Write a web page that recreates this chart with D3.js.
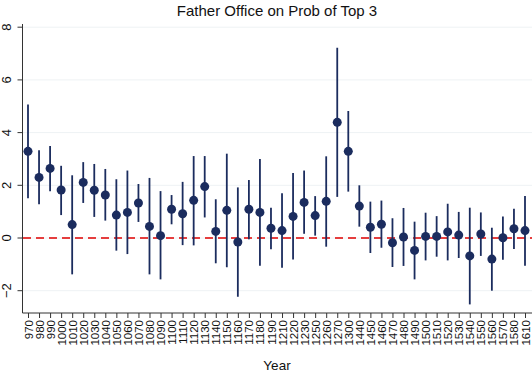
<!DOCTYPE html>
<html>
<head>
<meta charset="utf-8">
<script src="https://cdn.jsdelivr.net/npm/d3@7"></script>
<style>
  body { margin: 0; background: #fff; }
  svg { display: block; font-family: "Liberation Sans", Arial, sans-serif; }
</style>
</head>
<body>
<svg id="chart" width="532" height="374"></svg>
<script>
// categories (years with an estimate)
var years = [970, 980, 990, 1000, 1010, 1020, 1030, 1040, 1050, 1060, 1070, 1080, 1090,
    1100, 1110, 1120, 1130, 1140, 1150, 1160, 1170, 1180, 1190, 1210, 1220, 1230, 1250,
    1260, 1270, 1300, 1440, 1450, 1460, 1470, 1480, 1490, 1500, 1510, 1520, 1530, 1540,
    1550, 1560, 1570, 1580, 1610];

// point estimates
var coef = [3.29, 2.30, 2.64, 1.82, 0.51, 2.11, 1.81, 1.63, 0.87, 0.97, 1.33, 0.44, 0.09,
    1.09, 0.92, 1.43, 1.95, 0.25, 1.05, -0.15, 1.09, 0.97, 0.37, 0.28, 0.82, 1.35, 0.85,
    1.39, 4.39, 3.29, 1.21, 0.41, 0.52, -0.18, 0.04, -0.47, 0.06, 0.06, 0.23, 0.11, -0.68,
    0.15, -0.80, 0.01, 0.35, 0.28];

// confidence interval bounds
var upper = [5.07, 3.33, 3.49, 2.74, 2.38, 2.88, 2.81, 2.62, 2.23, 2.56, 2.05, 2.28, 1.78,
    1.63, 2.13, 3.11, 3.11, 1.47, 3.20, 1.92, 2.20, 3.00, 1.15, 1.70, 2.47, 2.56, 1.59,
    3.10, 7.22, 4.82, 2.00, 1.38, 1.42, 0.75, 1.14, 0.62, 0.96, 0.83, 1.30, 0.99, 1.15,
    0.97, 0.39, 0.82, 1.11, 1.59];
var lower = [1.51, 1.28, 1.77, 0.87, -1.38, 1.33, 0.80, 0.66, -0.48, -0.61, 0.61, -1.38, -1.57,
    0.52, -0.27, -0.28, 0.78, -0.96, -1.11, -2.23, -0.05, -1.05, -0.43, -1.13, -0.82, 0.16, 0.09,
    -0.33, 1.56, 1.76, 0.43, -0.57, -0.37, -1.10, -1.06, -1.57, -0.85, -0.71, -0.85, -0.76, -2.52,
    -0.68, -2.00, -0.83, -0.42, -1.05];

var yTicks = [-2, 0, 2, 4, 6, 8];

var navy = '#1b2c5e',
    red = '#e00000';

var svg = d3.select('#chart');

var x = d3.scalePoint()
    .domain(years)
    .range([28, 525]);

var y = d3.scaleLinear()
    .domain([-2, 8])
    .range([290.7, 27.2]);

var data = years.map(function(yr, i) {
    return {year: yr, b: coef[i], hi: upper[i], lo: lower[i]};
});

// faint horizontal grid
svg.append('g')
    .selectAll('line')
    .data(yTicks)
    .enter().append('line')
    .attr('x1', 23).attr('x2', 532)
    .attr('y1', function(d) { return y(d); })
    .attr('y2', function(d) { return y(d); })
    .attr('stroke', '#eef2f4')
    .attr('stroke-width', 1);

// y axis
var yAxis = svg.append('g')
    .attr('transform', 'translate(22.5,0)')
    .call(d3.axisLeft(y).tickValues(yTicks).tickSize(5).tickPadding(4));
yAxis.select('.domain').attr('d', 'M0,24V313');
yAxis.selectAll('.tick').attr('transform', null);
yAxis.selectAll('.tick line')
    .attr('y1', function(d) { return y(d); })
    .attr('y2', function(d) { return y(d); });
yAxis.selectAll('text')
    .attr('font-size', 13)
    .attr('fill', '#111')
    .attr('text-anchor', 'middle')
    .attr('dy', 0)
    .attr('x', 0).attr('y', 0)
    .attr('transform', function(d) { return 'translate(-11.5,' + y(d) + ') rotate(-90)'; });

// x axis
var xAxis = svg.append('g')
    .attr('transform', 'translate(0,313)')
    .call(d3.axisBottom(x).tickSize(5).tickPadding(3));
xAxis.select('.domain').attr('d', 'M22.5,0H532');
xAxis.selectAll('text')
    .attr('font-size', 11.5)
    .attr('fill', '#111')
    .attr('text-anchor', 'end')
    .attr('transform', 'rotate(-90)')
    .attr('x', -7)
    .attr('y', 0)
    .attr('dy', '0.35em');
svg.selectAll('.domain, .tick line').attr('stroke', '#333');

// zero reference line
svg.append('line')
    .attr('x1', 23).attr('x2', 532)
    .attr('y1', y(0)).attr('y2', y(0))
    .attr('stroke', red)
    .attr('stroke-width', 1.6)
    .attr('stroke-dasharray', '8,5');

// error bars
svg.append('g')
    .selectAll('line')
    .data(data)
    .enter().append('line')
    .attr('x1', function(d) { return x(d.year); })
    .attr('x2', function(d) { return x(d.year); })
    .attr('y1', function(d) { return y(d.hi); })
    .attr('y2', function(d) { return y(d.lo); })
    .attr('stroke', navy)
    .attr('stroke-width', 1.8);

// points
svg.append('g')
    .selectAll('circle')
    .data(data)
    .enter().append('circle')
    .attr('cx', function(d) { return x(d.year); })
    .attr('cy', function(d) { return y(d.b); })
    .attr('r', 4.5)
    .attr('fill', navy);

// titles
svg.append('text')
    .attr('x', 277).attr('y', 16)
    .attr('text-anchor', 'middle')
    .attr('font-size', 15)
    .attr('fill', '#111')
    .text('Father Office on Prob of Top 3');

svg.append('text')
    .attr('x', 277).attr('y', 370)
    .attr('text-anchor', 'middle')
    .attr('font-size', 13.5)
    .attr('fill', '#111')
    .text('Year');
</script>
</body>
</html>
